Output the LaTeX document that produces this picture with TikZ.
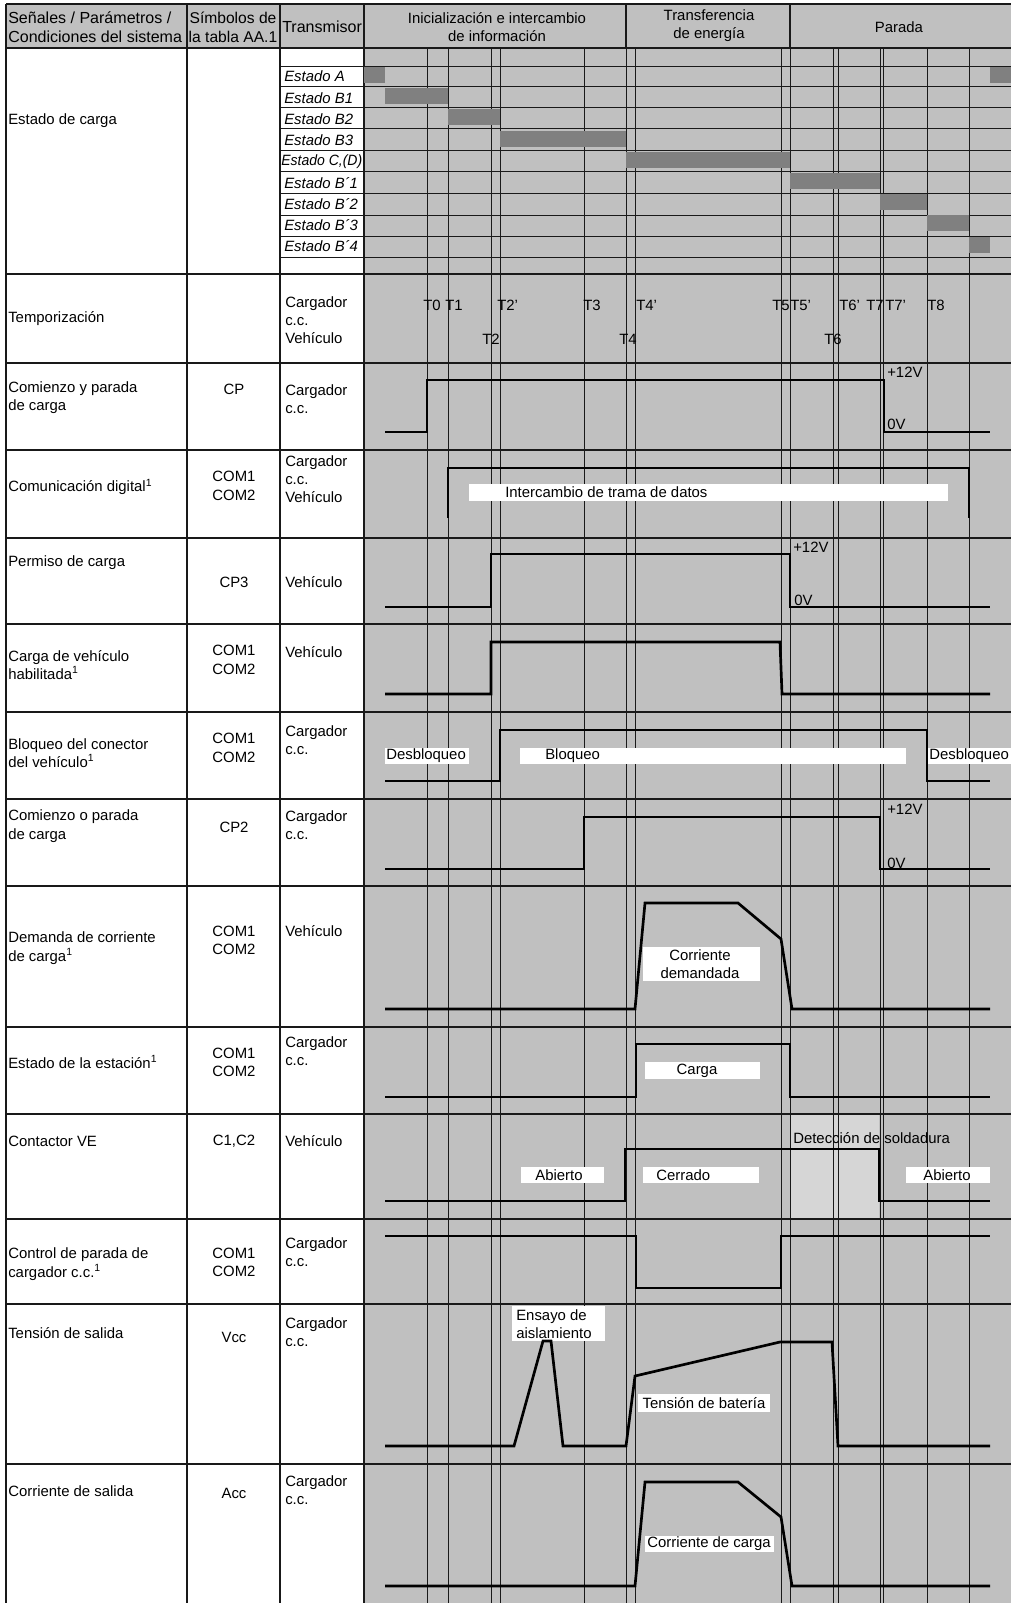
\documentclass[tikz,border=0pt]{standalone}
\usepackage{fontspec}
\setmainfont{Liberation Sans}
\usepackage{xcolor}
\usepackage{graphicx}
\usepackage{tikz}
\definecolor{panelgray}{RGB}{192,192,192}
\definecolor{stategray}{RGB}{128,128,128}
\definecolor{weldgray}{RGB}{214,214,214}
\definecolor{rulecolor}{RGB}{25,25,25}

\begin{document}
\begin{tikzpicture}[x=0.025cm,y=-0.025cm,
  font=\fontsize{10.6}{13}\selectfont,
  rowtext/.style={anchor=west,align=left,inner sep=0pt},
  symtext/.style={anchor=center,align=center,inner sep=0pt},
  headtext/.style={inner sep=0pt,font=\fontsize{11.4}{13.5}\selectfont},
  statetext/.style={anchor=west,inner sep=0pt,font=\fontsize{10.6}{13}\selectfont\itshape},
  tmark/.style={anchor=west,inner sep=0pt},
  wlabel/.style={inner sep=0pt,align=center},
  gridline/.style={draw=rulecolor,line width=0.6pt},
  frameline/.style={draw=rulecolor,line width=0.8pt},
  boldline/.style={draw=rulecolor,line width=1.3pt},
  signal/.style={draw=black,line width=1.9pt,line join=miter}
]
\useasboundingbox (0,0) rectangle (1011,1603);

% fondos
\fill[panelgray] (6,4) rectangle (1011,48);
\fill[panelgray] (364,48) rectangle (1011,1603);
\fill[weldgray] (791,1114) rectangle (879,1219);

% rejilla
\foreach \t in {427,448,491,500,584,626,635,781,790,833,838,880,883,927,969}
  \draw[gridline] (\t,48) -- (\t,1603);
\foreach \y in {66,86,107,128,150,171,193,215,236,257}
  \draw[gridline] (280,\y) -- (1011,\y);
\foreach \y in {363,450,538,624,712,799,886,1027,1114,1219,1304,1464}
  \draw[frameline] (6,\y) -- (1011,\y);
\draw[frameline] (6,4) -- (1011,4);
\draw[boldline] (6,48) -- (1011,48);
\draw[boldline] (6,274) -- (1011,274);
\foreach \x in {6,187,280,364}
  \draw[frameline] (\x,4) -- (\x,1603);
\draw[frameline] (626,4) -- (626,48);
\draw[frameline] (790,4) -- (790,48);

% estados
\foreach \r/\a/\b in {0/364/385,0/990/1011,1/385/448,2/448/500,3/500/626,4/626/790,5/790/880,6/880/927,7/927/969,8/969/990}
  \fill[stategray] (\a,{67+21.2*\r}) rectangle (\b,{83+21.2*\r});

% cuadros blancos
\fill[white] (469,484) rectangle (948,501);
\fill[white] (385,748) rectangle (469,764);
\fill[white] (520,748) rectangle (906,764);
\fill[white] (928,748) rectangle (1011,764);
\fill[white] (643,947) rectangle (760,981);
\fill[white] (645,1062) rectangle (760,1079);
\fill[white] (521,1167) rectangle (604,1183);
\fill[white] (643,1167) rectangle (759,1183);
\fill[white] (906,1167) rectangle (990,1183);
\fill[white] (512,1306) rectangle (605,1341);
\fill[white] (638,1394) rectangle (770,1412);
\fill[white] (645,1536) rectangle (774,1552);

% senales
\draw[signal] (385,432) -- (427,432) -- (427,380) -- (884,380) -- (884,432) -- (990,432);
\draw[signal] (448,518) -- (448,468) -- (969,468) -- (969,518);
\draw[signal] (385,607) -- (491,607) -- (491,554) -- (790,554) -- (790,607) -- (990,607);
\draw[signal] (385,694) -- (491,694) -- (491,642) -- (780,642) -- (782,694) -- (990,694);
\draw[signal] (385,781) -- (500,781) -- (500,730) -- (927,730) -- (927,781) -- (990,781);
\draw[signal] (385,869) -- (584,869) -- (584,817) -- (880,817) -- (880,869) -- (990,869);
\draw[signal] (385,1009) -- (635,1009) -- (645,903) -- (738,903) -- (781,939) -- (792,1009) -- (990,1009);
\draw[signal] (385,1097) -- (636,1097) -- (636,1044) -- (790,1044) -- (790,1097) -- (990,1097);
\draw[signal] (385,1201) -- (625,1201) -- (625,1149) -- (879,1149) -- (879,1201) -- (990,1201);
\draw[signal] (385,1236) -- (636,1236) -- (636,1288) -- (781,1288) -- (781,1236) -- (990,1236);
\draw[signal] (385,1446) -- (514,1446) -- (543,1341) -- (551,1341) -- (563,1446) -- (626,1446)
  -- (635,1376) -- (780,1342) -- (832,1342) -- (838,1446) -- (990,1446);
\draw[signal] (385,1586) -- (635,1586) -- (645,1482) -- (738,1482) -- (781,1517) -- (792,1586) -- (990,1586);

% cabecera
\node[headtext,anchor=west,align=left] (hsig) at (8,27) {Señales / Parámetros /\\Condiciones del sistema};
\node[headtext,align=center,font=\fontsize{11.1}{13.5}\selectfont] (hsym) at (233,27) {Símbolos de\\la tabla AA.1};
\node[headtext,anchor=west] (htx) at (282,27) {Transmisor};
\node[symtext] (hini) at (497,27) {Inicialización e intercambio\\de información};
\node[symtext] (htra) at (709,26) {Transferencia\\de energía};
\node[symtext] (hpar) at (899,27) {Parada};

% columna de senales
\node[rowtext] (c1) at (8,121) {Estado de carga};
\node[rowtext] (c2) at (8,319) {Temporización};
\node[rowtext] (c3) at (8,398) {Comienzo y parada\\de carga};
\node[rowtext] (c4) at (8,487) {Comunicación digital\textsuperscript{1}};
\node[rowtext] (c5) at (8,563) {Permiso de carga};
\node[rowtext] (c6) at (8,665) {Carga de vehículo\\habilitada\textsuperscript{1}};
\node[rowtext] (c7) at (8,753) {Bloqueo del conector\\del vehículo\textsuperscript{1}};
\node[rowtext] (c8) at (8,826) {Comienzo o parada\\de carga};
\node[rowtext] (c9) at (8,948) {Demanda de corriente\\de carga\textsuperscript{1}};
\node[rowtext] (c10) at (8,1062) {Estado de la estación\textsuperscript{1}};
\node[rowtext] (c11) at (8,1141) {Contactor VE};
\node[rowtext] (c12) at (8,1264) {Control de parada de\\cargador c.c.\textsuperscript{1}};
\node[rowtext] (c13) at (8,1333) {Tensión de salida};
\node[rowtext] (c14) at (8,1491) {Corriente de salida};

% simbolos
\node[symtext] (s3) at (234,389) {CP};
\node[symtext] (s4) at (234,486) {COM1\\COM2};
\node[symtext] (s5) at (234,582) {CP3};
\node[symtext] (s6) at (234,660) {COM1\\COM2};
\node[symtext] (s7) at (234,748) {COM1\\COM2};
\node[symtext] (s8) at (234,827) {CP2};
\node[symtext] (s9) at (234,940) {COM1\\COM2};
\node[symtext] (s10) at (234,1062) {COM1\\COM2};
\node[symtext] (s11) at (234,1141) {C1,C2};
\node[symtext] (s12) at (234,1262) {COM1\\COM2};
\node[symtext] (s13) at (234,1337) {Vcc};
\node[symtext] (s14) at (234,1493) {Acc};

% transmisor
\node[rowtext] (t2) at (285,320) {Cargador\\c.c.\\Vehículo};
\node[rowtext] (t3) at (285,399) {Cargador\\c.c.};
\node[rowtext] (t4) at (285,479) {Cargador\\c.c.\\Vehículo};
\node[rowtext] (t5) at (285,582) {Vehículo};
\node[rowtext] (t6) at (285,652) {Vehículo};
\node[rowtext] (t7) at (285,740) {Cargador\\c.c.};
\node[rowtext] (t8) at (285,825) {Cargador\\c.c.};
\node[rowtext] (t9) at (285,931) {Vehículo};
\node[rowtext] (t10) at (285,1051) {Cargador\\c.c.};
\node[rowtext] (t11) at (285,1141) {Vehículo};
\node[rowtext] (t12) at (285,1252) {Cargador\\c.c.};
\node[rowtext] (t13) at (285,1332) {Cargador\\c.c.};
\node[rowtext] (t14) at (285,1490) {Cargador\\c.c.};

% estados de carga
\foreach \i/\t in {0/Estado A,1/Estado B1,2/Estado B2,3/Estado B3,5/Estado B´1,6/Estado B´2,7/Estado B´3,8/Estado B´4}
  \node[statetext] (st\i) at (284,{76.6+21.2*\i}) {\t};
\node[statetext] (st4) at (281,161.4) {\scalebox{0.94}[1]{Estado C,(D)}};

% marcas de tiempo
\foreach \i/\x/\y/\t in {1/423/305/T0,2/445/305/T1,3/497/305/T2',4/583/305/T3,5/636/305/T4',
    6/772/305/T5,7/790/305/T5',8/839/305/T6',9/866/305/T7,10/885/305/T7',11/927/305/T8,
    12/482/339/T2,13/619/339/T4,14/824/339/T6}
  \node[tmark] (tm\i) at (\x,\y) {\t};

% rotulos de las senales
\node[rowtext] (v1) at (887,372) {+12V};
\node[rowtext] (v2) at (887,424) {0V};
\node[rowtext] (v3) at (793,547) {+12V};
\node[rowtext] (v4) at (794,600) {0V};
\node[rowtext] (v5) at (887,809) {+12V};
\node[rowtext] (v6) at (887,863) {0V};
\node[rowtext] (l1) at (505,492) {Intercambio de trama de datos};
\node[rowtext] (l2) at (386,756) {Desbloqueo};
\node[rowtext] (l3) at (545,756) {Bloqueo};
\node[rowtext] (l4) at (929,756) {Desbloqueo};
\node[wlabel] (l5) at (700,964) {Corriente\\demandada};
\node[wlabel] (l6) at (697,1071) {Carga};
\node[rowtext] (l7) at (793,1138) {Detección de soldadura};
\node[wlabel] (l8) at (559,1175) {Abierto};
\node[rowtext] (l9) at (656,1175) {Cerrado};
\node[wlabel] (l10) at (947,1175) {Abierto};
\node[rowtext] (l11) at (516,1324) {Ensayo de\\aislamiento};
\node[wlabel] (l12) at (704,1403) {Tensión de batería};
\node[wlabel] (l13) at (709,1544) {Corriente de carga};
\end{tikzpicture}
\end{document}
